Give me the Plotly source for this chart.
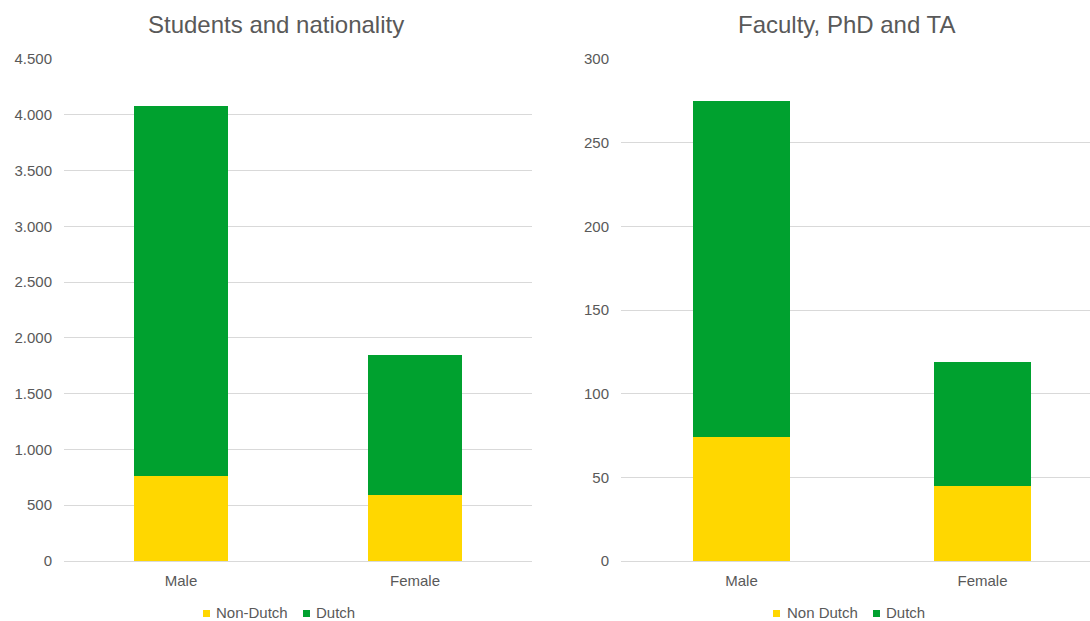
import plotly.graph_objects as go

W, H = 1090, 621
PLOT_TOP, PLOT_BOTTOM = 59, 561

categories = ["Male", "Female"]

# Students and nationality
students_non_dutch = [765, 590]
students_dutch = [3318, 1253]

# Faculty, PhD and TA
staff_non_dutch = [74, 45]
staff_dutch = [201, 74]

students_series = ["Non-Dutch", "Dutch"]
staff_series = ["Non Dutch", "Dutch"]

left_ticks = [0, 500, 1000, 1500, 2000, 2500, 3000, 3500, 4000, 4500]
left_tick_text = ["0", "500", "1.000", "1.500", "2.000", "2.500", "3.000", "3.500", "4.000", "4.500"]
right_ticks = [0, 50, 100, 150, 200, 250, 300]

titles = ["Students and nationality", "Faculty, PhD and TA"]

YELLOW = "#FFD700"
GREEN = "#00A12F"
TEXT = "#595959"
GRID = "#d9d9d9"
FONT = "Liberation Sans, Arial, sans-serif"

fig = go.Figure()

for name, vals, col in [(students_series[0], students_non_dutch, YELLOW),
                        (students_series[1], students_dutch, GREEN)]:
    fig.add_trace(go.Bar(x=categories, y=vals, name=name, marker_color=col,
                         marker_line_width=0, width=0.4, showlegend=False,
                         xaxis="x", yaxis="y"))
for name, vals, col in [(staff_series[0], staff_non_dutch, YELLOW),
                        (staff_series[1], staff_dutch, GREEN)]:
    fig.add_trace(go.Bar(x=categories, y=vals, name=name, marker_color=col,
                         marker_line_width=0, width=0.4, showlegend=False,
                         xaxis="x2", yaxis="y2"))

px = lambda v: v / W
py = lambda v: (PLOT_BOTTOM - v) / (PLOT_BOTTOM - PLOT_TOP)

axis_common = dict(showgrid=False, zeroline=False, showline=True, linecolor=GRID,
                   linewidth=1, ticks="", tickfont=dict(family=FONT, size=15, color=TEXT),
                   ticklabelstandoff=6)
yaxis_common = dict(showgrid=True, gridcolor=GRID, gridwidth=1, zeroline=False,
                    showline=False, ticks="", tickfont=dict(family=FONT, size=15, color=TEXT),
                    ticklabelstandoff=11)

fig.update_layout(
    width=W, height=H,
    margin=dict(l=0, r=0, t=PLOT_TOP, b=H - PLOT_BOTTOM),
    barmode="stack",
    plot_bgcolor="white", paper_bgcolor="white",
    font=dict(family=FONT, color=TEXT),
    xaxis=dict(domain=[px(64), px(532)], range=[-0.5, 1.5], anchor="y", **axis_common),
    yaxis=dict(domain=[0, 1], range=[0, 4500], tickvals=left_ticks, ticktext=left_tick_text,
               anchor="x", **yaxis_common),
    xaxis2=dict(domain=[px(621), 1], range=[-0.5, 1.446], anchor="y2", **axis_common),
    yaxis2=dict(domain=[0, 1], range=[0, 300], tickvals=right_ticks, anchor="x2",
                **yaxis_common),
)

# Titles
for t, cx in zip(titles, [276, 846]):
    fig.add_annotation(text=t, x=px(cx), y=py(24), xref="paper", yref="paper",
                       xanchor="center", yanchor="middle", showarrow=False,
                       font=dict(family=FONT, size=24, color=TEXT))

# Legends (colored squares + labels)
legend_items = [
    (students_series[0], YELLOW, 203, 215),
    (students_series[1], GREEN, 303, 315),
    (staff_series[0], YELLOW, 773, 786),
    (staff_series[1], GREEN, 873, 885),
]
for label, col, sx, tx in legend_items:
    fig.add_shape(type="rect", xref="paper", yref="paper",
                  x0=px(sx), x1=px(sx + 7), y0=py(617), y1=py(610),
                  fillcolor=col, line_width=0)
    fig.add_annotation(text=label, x=px(tx), y=py(612.5), xref="paper", yref="paper",
                       xanchor="left", yanchor="middle", showarrow=False, borderpad=0,
                       font=dict(family=FONT, size=15, color=TEXT))

fig.write_html("out.html")
